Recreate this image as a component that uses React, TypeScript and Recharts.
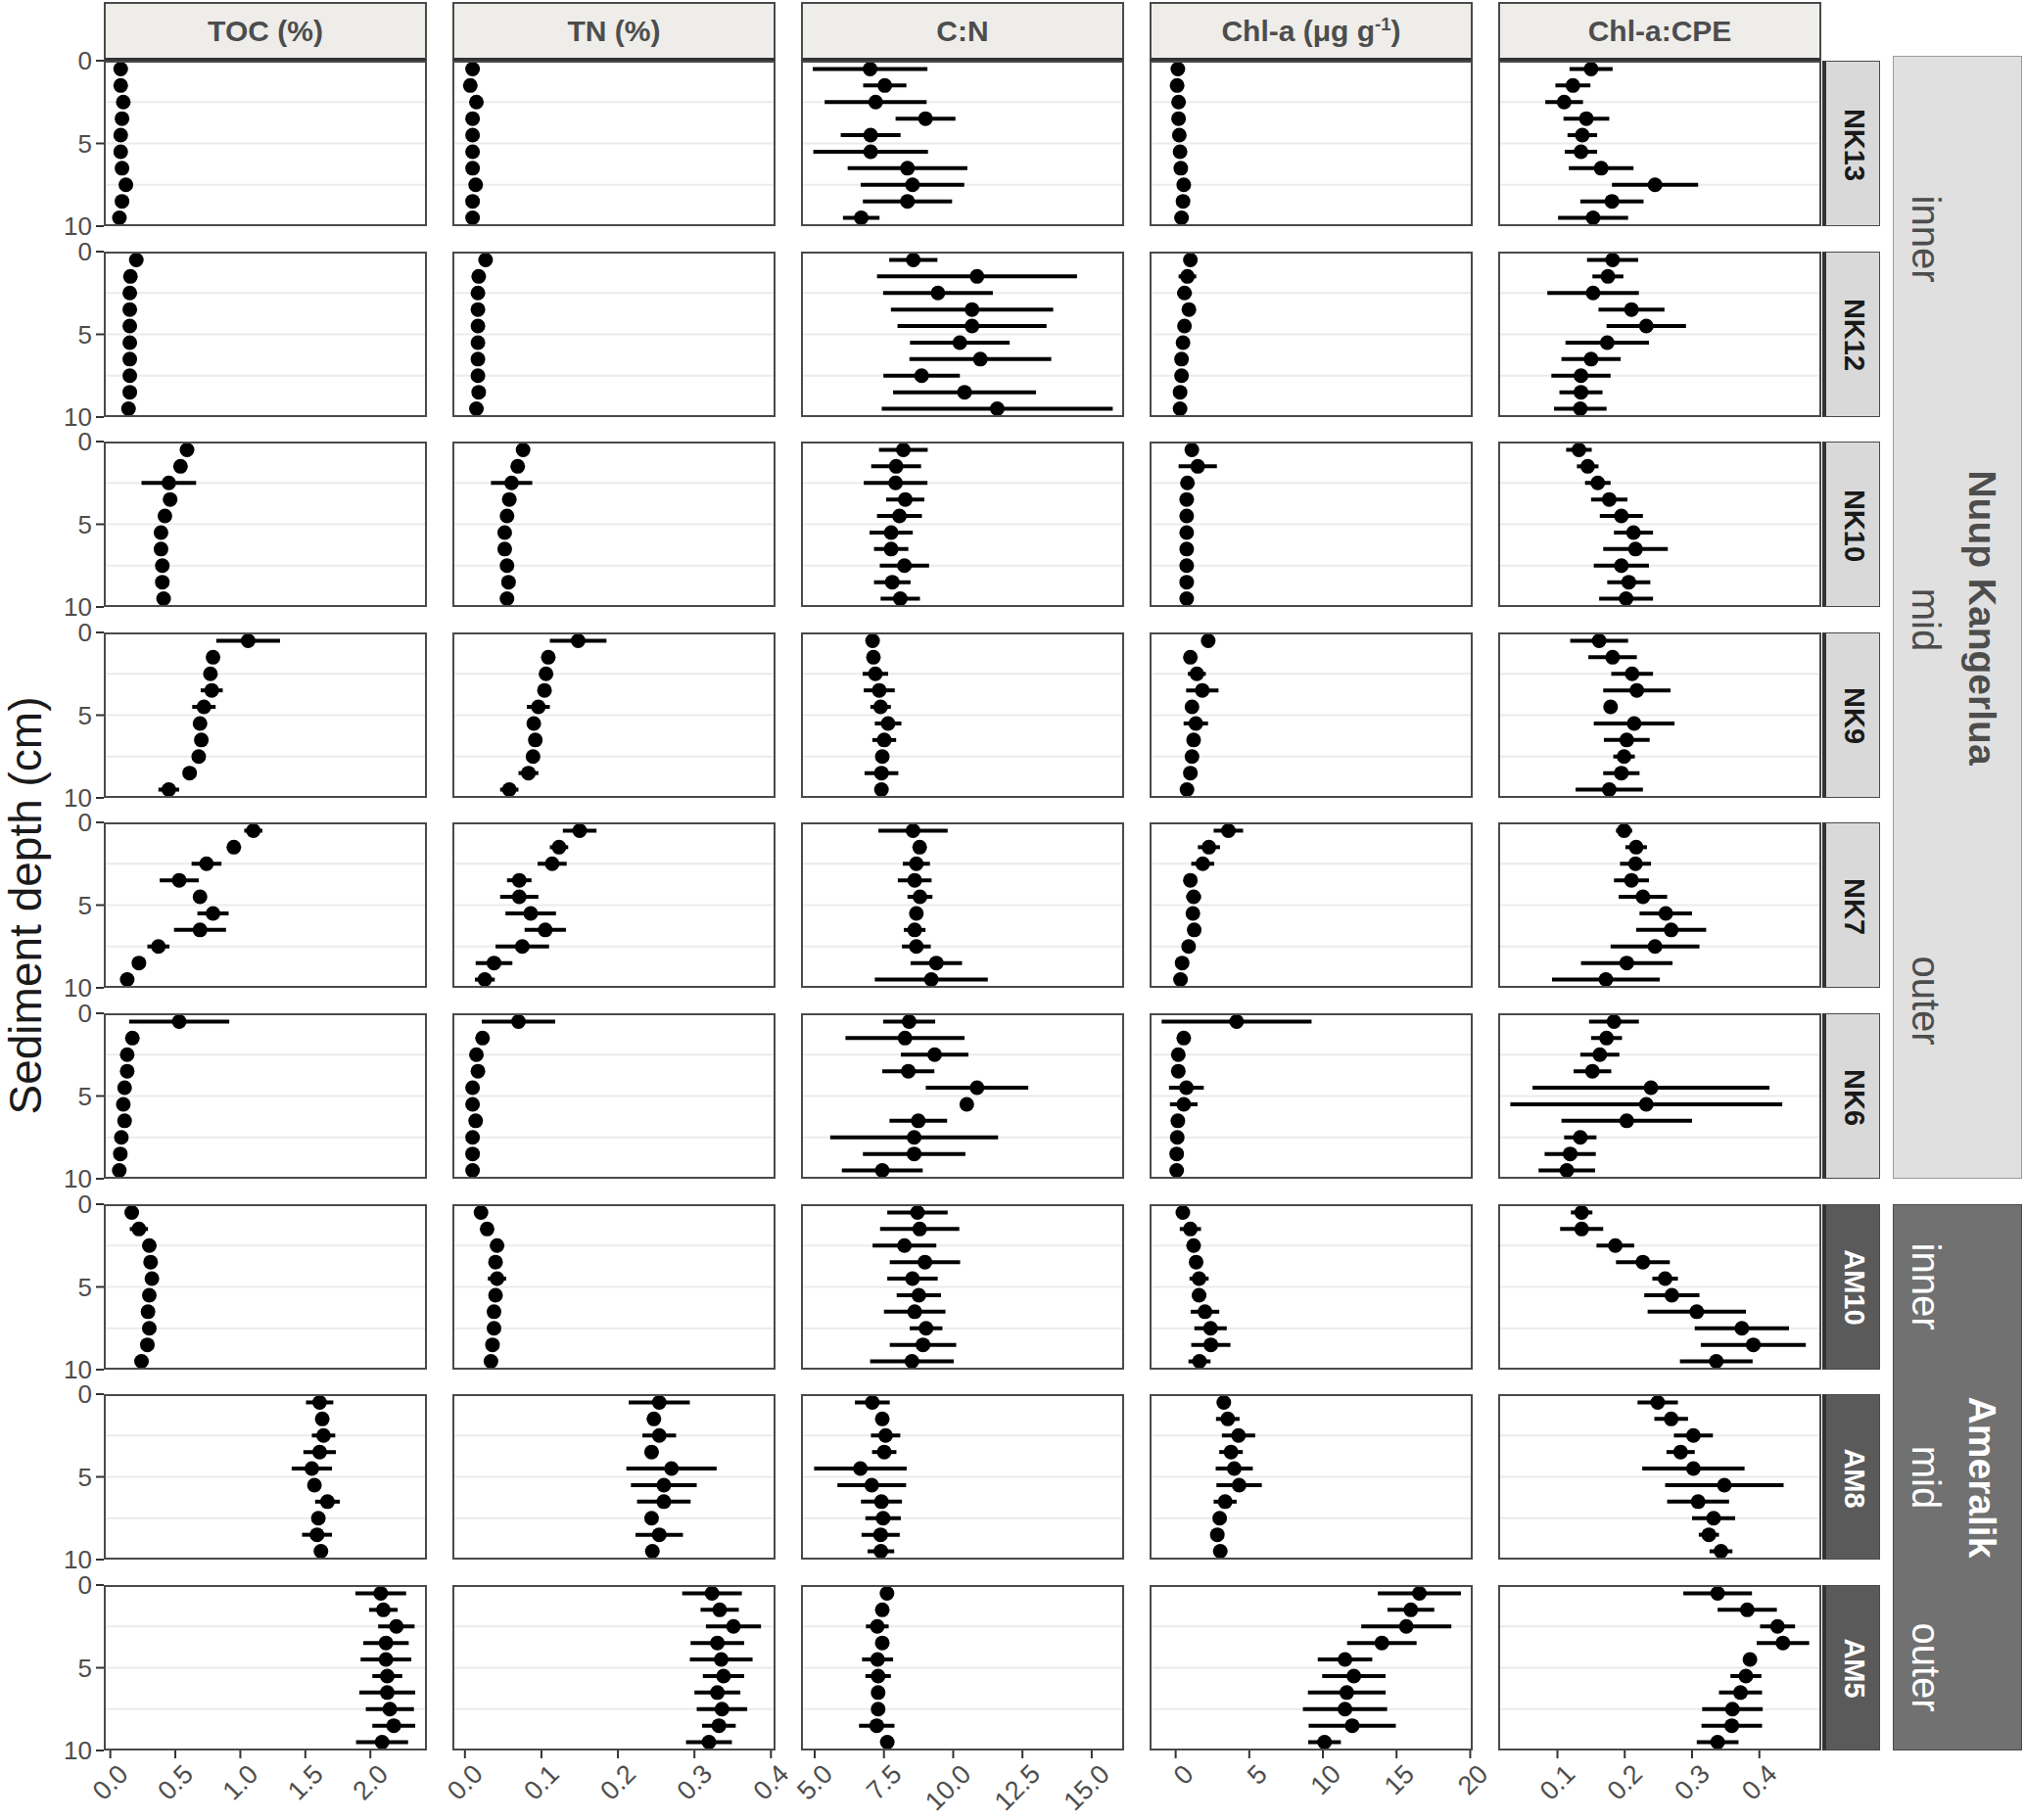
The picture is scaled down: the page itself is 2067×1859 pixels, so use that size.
import React from 'react';
import { ScatterChart, Scatter, XAxis, YAxis, CartesianGrid, ErrorBar } from 'recharts';

// sampling depths (cm) and cores, top to bottom
const depths = [0.5, 1.5, 2.5, 3.5, 4.5, 5.5, 6.5, 7.5, 8.5, 9.5];
const sites = ['NK13', 'NK12', 'NK10', 'NK9', 'NK7', 'NK6', 'AM10', 'AM8', 'AM5'];
const depthTicks = [0, 5, 10];

// TOC (%) mean and sd per core
const tocMean = [
  [0.08, 0.08, 0.1, 0.09, 0.08, 0.08, 0.09, 0.12, 0.09, 0.07],
  [0.2, 0.155, 0.15, 0.15, 0.15, 0.15, 0.15, 0.15, 0.15, 0.14],
  [0.59, 0.54, 0.45, 0.46, 0.42, 0.39, 0.39, 0.4, 0.4, 0.41],
  [1.06, 0.79, 0.77, 0.78, 0.72, 0.69, 0.7, 0.68, 0.61, 0.45],
  [1.1, 0.95, 0.74, 0.53, 0.69, 0.79, 0.69, 0.37, 0.22, 0.13],
  [0.53, 0.17, 0.13, 0.13, 0.11, 0.1, 0.11, 0.085, 0.077, 0.069],
  [0.165, 0.22, 0.3, 0.31, 0.32, 0.3, 0.29, 0.3, 0.285, 0.24],
  [1.61, 1.63, 1.64, 1.61, 1.55, 1.57, 1.67, 1.6, 1.59, 1.62],
  [2.08, 2.1, 2.2, 2.12, 2.12, 2.13, 2.13, 2.15, 2.18, 2.09],
];
const tocSd = [
  [0.02, 0.02, 0.02, 0.02, 0.02, 0.02, 0.02, 0.02, 0.02, 0.02],
  [0.02, 0.02, 0.02, 0.02, 0.02, 0.02, 0.02, 0.02, 0.02, 0.02],
  [0.03, 0.03, 0.21, 0.03, 0.03, 0.02, 0.02, 0.02, 0.02, 0.02],
  [0.245, 0.03, 0.03, 0.085, 0.09, 0.03, 0.03, 0.03, 0.03, 0.08],
  [0.07, 0.03, 0.115, 0.15, 0.03, 0.12, 0.2, 0.085, 0.03, 0.03],
  [0.385, 0.02, 0.02, 0.02, 0.02, 0.02, 0.02, 0.02, 0.02, 0.02],
  [0.02, 0.07, 0.03, 0.03, 0.05, 0.03, 0.03, 0.03, 0.03, 0.03],
  [0.105, 0.03, 0.09, 0.125, 0.155, 0.03, 0.095, 0.03, 0.115, 0.04],
  [0.195, 0.11, 0.14, 0.175, 0.195, 0.115, 0.215, 0.185, 0.165, 0.2],
];

// TN (%)
const tnMean = [
  [0.01, 0.007, 0.015, 0.01, 0.01, 0.01, 0.01, 0.014, 0.01, 0.01],
  [0.027, 0.018, 0.017, 0.017, 0.017, 0.017, 0.017, 0.017, 0.018, 0.015],
  [0.076, 0.069, 0.061, 0.058, 0.055, 0.052, 0.052, 0.055, 0.057, 0.055],
  [0.148, 0.109, 0.106, 0.104, 0.096, 0.09, 0.092, 0.089, 0.083, 0.058],
  [0.15, 0.123, 0.114, 0.071, 0.071, 0.086, 0.105, 0.075, 0.038, 0.026],
  [0.07, 0.023, 0.015, 0.017, 0.01, 0.01, 0.014, 0.01, 0.01, 0.01],
  [0.021, 0.029, 0.042, 0.04, 0.042, 0.04, 0.038, 0.038, 0.036, 0.034],
  [0.254, 0.247, 0.254, 0.244, 0.27, 0.26, 0.26, 0.244, 0.254, 0.245],
  [0.323, 0.333, 0.351, 0.33, 0.335, 0.338, 0.33, 0.336, 0.332, 0.319],
];
const tnSd = [
  [0.003, 0.003, 0.003, 0.003, 0.003, 0.003, 0.003, 0.003, 0.003, 0.003],
  [0.003, 0.006, 0.003, 0.003, 0.003, 0.003, 0.003, 0.003, 0.003, 0.003],
  [0.004, 0.004, 0.027, 0.004, 0.004, 0.004, 0.004, 0.004, 0.004, 0.004],
  [0.037, 0.004, 0.004, 0.004, 0.015, 0.004, 0.004, 0.004, 0.013, 0.012],
  [0.022, 0.012, 0.019, 0.016, 0.025, 0.033, 0.027, 0.035, 0.024, 0.013],
  [0.048, 0.003, 0.003, 0.003, 0.003, 0.003, 0.003, 0.003, 0.003, 0.003],
  [0.003, 0.003, 0.003, 0.003, 0.012, 0.003, 0.003, 0.003, 0.003, 0.003],
  [0.04, 0.005, 0.022, 0.005, 0.059, 0.043, 0.035, 0.006, 0.031, 0.006],
  [0.039, 0.025, 0.036, 0.035, 0.041, 0.027, 0.03, 0.033, 0.022, 0.03],
];

// C:N
const cnMean = [
  [7.0, 7.53, 7.2, 9.0, 7.02, 7.02, 8.35, 8.53, 8.35, 6.68],
  [8.56, 10.86, 9.45, 10.68, 10.68, 10.24, 10.98, 8.86, 10.41, 11.59],
  [8.2, 7.94, 7.92, 8.27, 8.06, 7.76, 7.76, 8.24, 7.8, 8.09],
  [7.09, 7.12, 7.19, 7.33, 7.38, 7.65, 7.51, 7.44, 7.41, 7.41],
  [8.55, 8.79, 8.67, 8.61, 8.8, 8.67, 8.61, 8.67, 9.39, 9.21],
  [8.41, 8.26, 9.33, 8.38, 10.86, 10.49, 8.74, 8.59, 8.59, 7.44],
  [8.71, 8.79, 8.24, 8.98, 8.53, 8.76, 8.61, 9.02, 8.91, 8.51],
  [7.08, 7.44, 7.56, 7.51, 6.65, 7.06, 7.41, 7.47, 7.38, 7.39],
  [7.61, 7.44, 7.26, 7.44, 7.27, 7.29, 7.29, 7.29, 7.24, 7.62],
];
const cnSd = [
  [2.07, 0.78, 1.84, 1.08, 1.08, 2.07, 2.16, 1.87, 1.61, 0.66],
  [0.87, 3.61, 1.98, 2.93, 2.69, 1.8, 2.56, 1.38, 2.58, 4.17],
  [0.88, 0.9, 1.15, 0.69, 0.81, 0.78, 0.62, 0.89, 0.66, 0.71],
  [0.15, 0.15, 0.46, 0.56, 0.37, 0.48, 0.43, 0.15, 0.61, 0.15],
  [1.25, 0.15, 0.49, 0.61, 0.45, 0.15, 0.39, 0.52, 0.93, 2.04],
  [0.94, 2.15, 1.22, 0.94, 1.85, 0.1, 1.04, 3.03, 1.85, 1.46],
  [1.09, 1.43, 1.15, 1.27, 0.91, 0.8, 1.11, 0.59, 1.2, 1.51],
  [0.63, 0.15, 0.53, 0.44, 1.67, 1.24, 0.74, 0.64, 0.69, 0.48],
  [0.15, 0.15, 0.41, 0.15, 0.56, 0.46, 0.2, 0.2, 0.64, 0.15],
];

// Chl-a (ug/g)
const chlMean = [
  [0.15, 0.1, 0.2, 0.2, 0.25, 0.3, 0.35, 0.55, 0.5, 0.4],
  [1.0, 0.8, 0.6, 0.9, 0.6, 0.5, 0.4, 0.4, 0.3, 0.3],
  [1.1, 1.5, 0.8, 0.75, 0.75, 0.75, 0.75, 0.75, 0.75, 0.75],
  [2.21, 1.0, 1.44, 1.81, 1.11, 1.37, 1.22, 1.11, 1.0, 0.77],
  [3.58, 2.26, 1.84, 1.0, 1.22, 1.17, 1.26, 0.88, 0.44, 0.33],
  [4.14, 0.55, 0.18, 0.18, 0.73, 0.55, 0.15, 0.11, 0.07, 0.07],
  [0.49, 1.0, 1.22, 1.39, 1.59, 1.59, 1.99, 2.37, 2.39, 1.62],
  [3.27, 3.54, 4.27, 3.76, 3.98, 4.31, 3.36, 2.99, 2.83, 3.03],
  [16.55, 15.97, 15.66, 14.0, 11.5, 12.1, 11.62, 11.5, 11.99, 10.11],
];
const chlSd = [
  [0.1, 0.1, 0.1, 0.1, 0.1, 0.1, 0.1, 0.1, 0.1, 0.1],
  [0.2, 0.6, 0.5, 0.2, 0.2, 0.2, 0.2, 0.2, 0.2, 0.2],
  [0.2, 1.3, 0.2, 0.2, 0.2, 0.2, 0.2, 0.2, 0.2, 0.2],
  [0.2, 0.2, 0.61, 1.1, 0.2, 0.83, 0.2, 0.2, 0.2, 0.2],
  [1.0, 0.75, 0.78, 0.2, 0.5, 0.2, 0.2, 0.2, 0.2, 0.2],
  [5.09, 0.2, 0.2, 0.2, 1.18, 0.94, 0.2, 0.2, 0.2, 0.2],
  [0.2, 0.72, 0.3, 0.3, 0.65, 0.5, 0.97, 1.1, 1.33, 0.75],
  [0.2, 0.8, 1.13, 0.8, 1.26, 1.54, 0.78, 0.2, 0.3, 0.2],
  [2.82, 1.59, 3.06, 2.36, 1.85, 2.15, 2.64, 2.86, 2.96, 1.11],
];

// Chl-a:CPE
const cpeMean = [
  [0.15, 0.123, 0.11, 0.143, 0.137, 0.135, 0.165, 0.245, 0.181, 0.153],
  [0.182, 0.175, 0.153, 0.21, 0.232, 0.174, 0.15, 0.135, 0.135, 0.134],
  [0.132, 0.145, 0.16, 0.177, 0.195, 0.213, 0.216, 0.195, 0.206, 0.202],
  [0.162, 0.182, 0.211, 0.218, 0.179, 0.214, 0.203, 0.199, 0.195, 0.177],
  [0.199, 0.217, 0.216, 0.21, 0.227, 0.261, 0.269, 0.245, 0.203, 0.172],
  [0.184, 0.173, 0.163, 0.152, 0.239, 0.232, 0.203, 0.134, 0.119, 0.114],
  [0.136, 0.136, 0.186, 0.227, 0.26, 0.27, 0.307, 0.374, 0.391, 0.336],
  [0.249, 0.269, 0.302, 0.283, 0.302, 0.348, 0.309, 0.332, 0.325, 0.343],
  [0.338, 0.382, 0.427, 0.435, 0.386, 0.38, 0.372, 0.36, 0.359, 0.338],
];
const cpeSd = [
  [0.032, 0.026, 0.028, 0.034, 0.022, 0.024, 0.048, 0.064, 0.047, 0.052],
  [0.038, 0.023, 0.068, 0.049, 0.059, 0.062, 0.044, 0.044, 0.032, 0.039],
  [0.019, 0.016, 0.019, 0.027, 0.032, 0.029, 0.048, 0.041, 0.032, 0.04],
  [0.043, 0.036, 0.031, 0.05, 0.005, 0.06, 0.034, 0.016, 0.027, 0.05],
  [0.012, 0.016, 0.023, 0.026, 0.036, 0.039, 0.052, 0.066, 0.068, 0.08],
  [0.037, 0.023, 0.029, 0.028, 0.176, 0.202, 0.097, 0.024, 0.038, 0.042],
  [0.016, 0.032, 0.028, 0.04, 0.019, 0.041, 0.073, 0.07, 0.078, 0.054],
  [0.03, 0.025, 0.029, 0.021, 0.076, 0.088, 0.046, 0.032, 0.015, 0.017],
  [0.051, 0.044, 0.026, 0.039, 0.005, 0.023, 0.032, 0.045, 0.045, 0.031],
];

const tocTicks = [0, 0.5, 1, 1.5, 2];
const tnTicks = [0, 0.1, 0.2, 0.3, 0.4];
const cnTicks = [5, 7.5, 10, 12.5, 15];
const chlTicks = [0, 5, 10, 15, 20];
const cpeTicks = [0.1, 0.2, 0.3, 0.4];

const columns = [
  { key: 'toc', title: 'TOC (%)', mean: tocMean, sd: tocSd, domain: [-0.05, 2.435], ticks: tocTicks, digits: 1 },
  { key: 'tn', title: 'TN (%)', mean: tnMean, sd: tnSd, domain: [-0.0164, 0.406], ticks: tnTicks, digits: 1 },
  { key: 'cn', title: 'C:N', mean: cnMean, sd: cnSd, domain: [4.505, 16.17], ticks: cnTicks, digits: 1 },
  { key: 'chl', title: 'chl', mean: chlMean, sd: chlSd, domain: [-1.77, 20.17], ticks: chlTicks, digits: 0 },
  { key: 'cpe', title: 'Chl-a:CPE', mean: cpeMean, sd: cpeSd, domain: [0.012, 0.492], ticks: cpeTicks, digits: 1 },
];

const regions = [
  { name: 'Nuup Kangerlua', from: 0, to: 5, fill: '#E0E0E0', border: '#9A9A9A', color: '#4D4D4D',
    zones: [{ label: 'inner', from: 0, to: 1 }, { label: 'mid', from: 2, to: 3 }, { label: 'outer', from: 4, to: 5 }] },
  { name: 'Ameralik', from: 6, to: 8, fill: '#717171', border: '#4A4A4A', color: '#FFFFFF',
    zones: [{ label: 'inner', from: 6, to: 6 }, { label: 'mid', from: 7, to: 7 }, { label: 'outer', from: 8, to: 8 }] },
];

const FONT = '"Liberation Sans", Arial, Helvetica, sans-serif';
const PANEL_W = 330;
const PANEL_H = 169;
const COL_X0 = 106;
const COL_STEP = 356;
const ROW_Y0 = 62;
const ROW_STEP = 194.6;
const Y_AXIS_W = 60;
const X_AXIS_H = 72;
const PAD = 16;

const colLeft = (c: number) => COL_X0 + c * COL_STEP;
const rowTop = (r: number) => ROW_Y0 + r * ROW_STEP;

const Dot = (props: any) => <circle cx={props.cx} cy={props.cy} r={7.5} fill="#000" />;

const AngledTick = (props: any) => {
  const { x, y, payload, digits } = props;
  return (
    <text
      x={x + 6}
      y={y}
      transform={`rotate(-45, ${x + 6}, ${y})`}
      textAnchor="end"
      dy="0.72em"
      fill="#4D4D4D"
      fontSize={27}
    >
      {Number(payload.value).toFixed(digits)}
    </text>
  );
};

function Panel({ row, col }: { row: number; col: number }) {
  const c = columns[col];
  const first = col === 0;
  const last = row === sites.length - 1;
  const data = depths.map((d, i) => ({ depth: d, value: c.mean[row][i], err: c.sd[row][i] }));
  const offX = first ? Y_AXIS_W : 0;
  const width = PANEL_W + offX;
  const height = PAD + PANEL_H + (last ? X_AXIS_H : PAD);
  return (
    <div style={{ position: 'absolute', left: colLeft(col) - offX, top: rowTop(row) - PAD, width, height }}>
      <ScatterChart
        width={width}
        height={height}
        margin={{ top: PAD, right: 0, bottom: last ? 0 : PAD, left: 0 }}
        style={{ overflow: 'visible' }}
      >
        <CartesianGrid vertical={false} horizontalValues={[2.5, 5, 7.5]} stroke="#EBEBEB" strokeWidth={2} />
        <XAxis
          type="number"
          dataKey="value"
          domain={c.domain as [number, number]}
          allowDataOverflow
          hide={!last}
          ticks={c.ticks}
          interval={0}
          height={X_AXIS_H}
          axisLine={false}
          tickSize={8}
          tickMargin={4}
          tickLine={{ stroke: '#333', strokeWidth: 2 }}
          tick={<AngledTick digits={c.digits} />}
        />
        <YAxis
          type="number"
          dataKey="depth"
          domain={[0, 10]}
          reversed
          allowDataOverflow
          hide={!first}
          width={Y_AXIS_W}
          ticks={depthTicks}
          interval={0}
          axisLine={false}
          tickSize={8}
          tickMargin={4}
          tickLine={{ stroke: '#333', strokeWidth: 2 }}
          tick={{ fontSize: 26, fill: '#4D4D4D' }}
        />
        <Scatter data={data} isAnimationActive={false} shape={Dot}>
          <ErrorBar dataKey="err" direction="x" width={0} stroke="#000" strokeWidth={4} isAnimationActive={false} />
        </Scatter>
      </ScatterChart>
      <div
        style={{
          position: 'absolute', left: offX, top: PAD, width: PANEL_W, height: PANEL_H,
          border: '2px solid #4A4A4A', boxSizing: 'border-box', pointerEvents: 'none',
        }}
      />
    </div>
  );
}

const rotated = (cx: number, cy: number, extra: React.CSSProperties): React.CSSProperties => ({
  position: 'absolute', left: cx, top: cy, transform: 'translate(-50%, -50%) rotate(90deg)',
  whiteSpace: 'nowrap', lineHeight: 1, ...extra,
});

export default function App() {
  return (
    <div style={{ position: 'absolute', left: 0, top: 0, width: 2067, height: 1859, background: '#fff', fontFamily: FONT, overflow: 'hidden' }}>
      <style>{'.recharts-wrapper, .recharts-surface { overflow: visible !important; }'}</style>

      {/* facet column headers */}
      {columns.map((c, ci) => (
        <div
          key={c.key}
          style={{
            position: 'absolute', left: colLeft(ci), top: 2, width: PANEL_W, height: ROW_Y0 - 2,
            background: '#EEEDE9', border: '2px solid #4A4A4A', borderBottom: '3px solid #333', boxSizing: 'border-box',
            display: 'flex', alignItems: 'center', justifyContent: 'center',
            fontWeight: 700, fontSize: 30, color: '#4D4D4D',
          }}
        >
          {c.key === 'chl' ? (
            <span>Chl-a (μg g<sup style={{ fontSize: '0.62em' }}>-1</sup>)</span>
          ) : (
            c.title
          )}
        </div>
      ))}

      {sites.map((s, ri) => columns.map((c, ci) => <Panel key={`${s}-${c.key}`} row={ri} col={ci} />))}

      {/* core strips on the right */}
      {sites.map((s, ri) => {
        const am = s.startsWith('AM');
        return (
          <div
            key={s}
            style={{
              position: 'absolute', left: 1861, top: rowTop(ri), width: 59, height: PANEL_H,
              background: am ? '#5A5A5A' : '#D9D9D9', border: '1.5px solid #4A4A4A', borderLeft: '4px solid #333',
              boxSizing: 'border-box',
            }}
          >
            <div style={rotated(28, PANEL_H / 2, { fontWeight: 700, fontSize: 29, color: am ? '#FFFFFF' : '#1A1A1A' })}>{s}</div>
          </div>
        );
      })}

      {/* fjord / position boxes */}
      {regions.map((g) => {
        const top = rowTop(g.from) - (g.from === 0 ? 5 : 0);
        const bottom = rowTop(g.to) + PANEL_H;
        return (
          <div key={g.name}>
            <div
              style={{
                position: 'absolute', left: 1933, top, width: 132, height: bottom - top,
                background: g.fill, border: `1.5px solid ${g.border}`, boxSizing: 'border-box',
              }}
            />
            {g.zones.map((z) => (
              <div key={z.label} style={rotated(1967, (rowTop(z.from) + rowTop(z.to) + PANEL_H) / 2, { fontSize: 40, color: g.color })}>
                {z.label}
              </div>
            ))}
            <div style={rotated(2024, (top + bottom) / 2, { fontSize: 39, fontWeight: 700, color: g.color })}>{g.name}</div>
          </div>
        );
      })}

      {/* y axis title */}
      <div
        style={{
          position: 'absolute', left: 26, top: (ROW_Y0 + rowTop(sites.length - 1) + PANEL_H) / 2,
          transform: 'translate(-50%, -50%) rotate(-90deg)', whiteSpace: 'nowrap', lineHeight: 1.1,
          fontSize: 46, color: '#1A1A1A',
        }}
      >
        Sediment depth (cm)
      </div>
    </div>
  );
}
